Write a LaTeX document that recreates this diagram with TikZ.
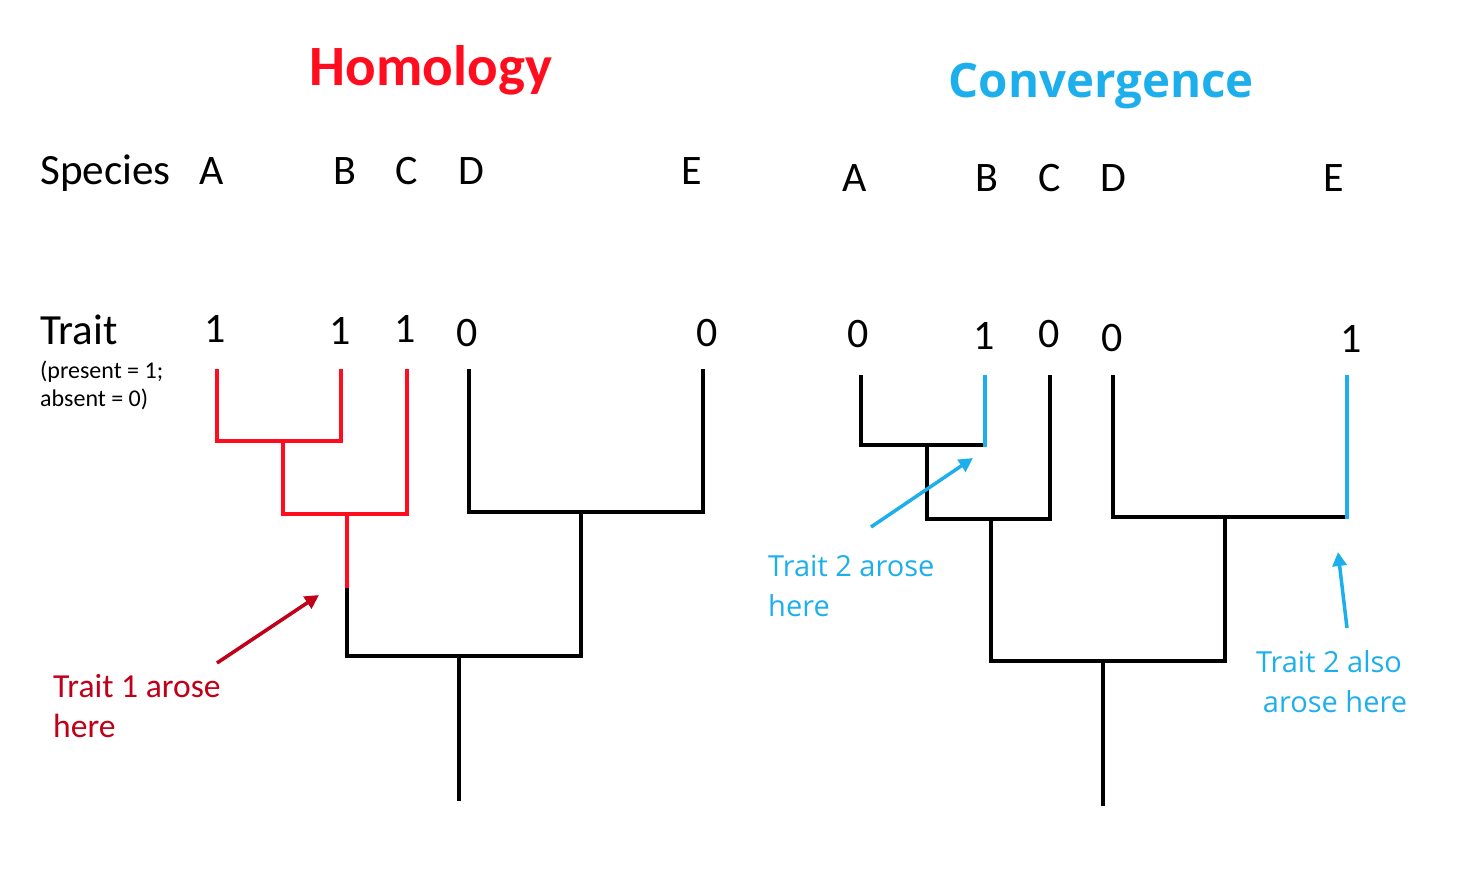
\documentclass[tikz,border=0pt]{standalone}
\usepackage{fontspec}
\setmainfont{Carlito}
\newfontfamily\bluefont{Open Sans}
\usetikzlibrary{arrows.meta}
\definecolor{hred}{RGB}{255,12,30}
\definecolor{dred}{RGB}{192,0,24}
\definecolor{cblue}{RGB}{29,175,236}
\tikzset{
  br/.style={line width=4pt, line cap=rect, line join=miter},
  blk/.style={br, black},
  rd/.style={br, hred},
  bl/.style={br, cblue},
  lab/.style={inner sep=0pt, anchor=base},
  big/.style={lab, font=\fontsize{42}{46}\selectfont},
  ann/.style={line width=3.5pt, -{Triangle[length=14pt,width=14pt]}},
}
\begin{document}
\begin{tikzpicture}[x=1pt,y=-1pt]
\useasboundingbox (0,0) rectangle (1468,894);
% titles
\node[lab, font=\fontsize{57}{60}\selectfont\bfseries, text=hred] (t1) at (431,85) {Homology};
\node[lab, font=\bluefont\fontsize{47.4}{52}\selectfont\bfseries, text=cblue] (t2) at (1101,97) {Convergence};
% left labels
\node[lab, anchor=base west, font=\fontsize{43.2}{46}\selectfont] (sp) at (40,184) {Species};
\node[lab, anchor=base west, font=\fontsize{43}{46}\selectfont] (tr) at (40,344) {Trait};
\node[lab, anchor=base west, font=\fontsize{24}{28}\selectfont] (p1) at (40,378) {(present = 1;};
\node[lab, anchor=base west, font=\fontsize{24}{28}\selectfont] (p2) at (40,406) {absent = 0)};
% species letters left
\foreach \n/\x/\t in {lA/212/A,lB/345/B,lC/407/C,lD/471/D,lE/692/E}
  \node[big] (\n) at (\x,184) {\t};
\foreach \n/\x/\y/\t in {ln1/215/342/1,ln2/340/344/1,ln3/405/342/1,ln4/467/346/0,ln5/707/346/0}
  \node[big] (\n) at (\x,\y) {\t};
% species letters right
\foreach \n/\x/\t in {rA/855/A,rB/987/B,rC/1050/C,rD/1113/D,rE/1334/E}
  \node[big] (\n) at (\x,191) {\t};
\foreach \n/\x/\y/\t in {rn1/858/347/0,rn2/984/349/1,rn3/1049/347/0,rn4/1112/351/0,rn5/1351/352/1}
  \node[big] (\n) at (\x,\y) {\t};
% left tree coordinates
\coordinate (a1) at (217,371); \coordinate (a2) at (217,441);
\coordinate (b1) at (341,371); \coordinate (b2) at (341,441);
\coordinate (c1) at (407,371); \coordinate (c2) at (407,514);
\coordinate (d1) at (469,371); \coordinate (d2) at (469,512);
\coordinate (e1) at (703,371); \coordinate (e2) at (703,512);
\coordinate (ab) at (283,441); \coordinate (ab2) at (283,514);
\coordinate (abc) at (347,514); \coordinate (abcm) at (347,590); \coordinate (abc2) at (347,656);
\coordinate (de) at (581,512); \coordinate (de2) at (581,656);
\coordinate (rt) at (459,656); \coordinate (rt2) at (459,799);
\draw[rd] (a1) -- (a2) -- (b2) -- (b1);
\draw[rd] (ab) -- (ab2) -- (c2) -- (c1);
\draw[rd] (abc) -- (abcm);
\draw[blk] (abcm) -- (abc2) -- (de2) -- (de);
\draw[blk] (d1) -- (d2) -- (e2) -- (e1);
\draw[blk] (rt) -- (rt2);
% left annotation
\node[lab, anchor=base west, font=\fontsize{33.6}{38}\selectfont, text=dred] (n1a) at (53,697) {Trait 1 arose};
\node[lab, anchor=base west, font=\fontsize{33.6}{38}\selectfont, text=dred] (n1b) at (53,737) {here};
\coordinate (ar1s) at (217,663); \coordinate (ar1e) at (319,595);
\draw[ann, dred] (ar1s) -- (ar1e);
% right tree coordinates
\coordinate (A1) at (861,377); \coordinate (A2) at (861,445);
\coordinate (B1) at (985,377); \coordinate (B2) at (985,445);
\coordinate (C1) at (1050,377); \coordinate (C2) at (1050,519);
\coordinate (D1) at (1113,377); \coordinate (D2) at (1113,517);
\coordinate (E1) at (1347,377); \coordinate (E2) at (1347,517);
\coordinate (AB) at (927,445); \coordinate (AB2) at (927,519);
\coordinate (ABC) at (991,519); \coordinate (ABC2) at (991,661);
\coordinate (DE) at (1225,517); \coordinate (DE2) at (1225,661);
\coordinate (RT) at (1103,661); \coordinate (RT2) at (1103,804);
\draw[blk] (A1) -- (A2) -- (B2);
\draw[bl] (B2) -- (B1);
\draw[blk] (AB) -- (AB2) -- (C2) -- (C1);
\draw[blk] (ABC) -- (ABC2) -- (DE2) -- (DE);
\draw[blk] (D1) -- (D2) -- (E2);
\draw[bl] (E2) -- (E1);
\draw[blk] (RT) -- (RT2);
% right annotations
\node[lab, anchor=base west, font=\bluefont\fontsize{29}{33}\selectfont, text=cblue] (n2a) at (768,576) {Trait 2 arose};
\node[lab, anchor=base west, font=\bluefont\fontsize{29}{33}\selectfont, text=cblue] (n2b) at (768,616) {here};
\node[lab, anchor=base, font=\bluefont\fontsize{29}{33}\selectfont, text=cblue] (n3a) at (1329,672) {Trait 2 also};
\node[lab, anchor=base, font=\bluefont\fontsize{29}{33}\selectfont, text=cblue] (n3b) at (1335,712) {arose here};
\coordinate (ar2s) at (871,527); \coordinate (ar2e) at (973,458);
\coordinate (ar3s) at (1347,628); \coordinate (ar3e) at (1338,552);
\draw[ann, cblue] (ar2s) -- (ar2e);
\draw[ann, cblue] (ar3s) -- (ar3e);
\end{tikzpicture}
\end{document}
